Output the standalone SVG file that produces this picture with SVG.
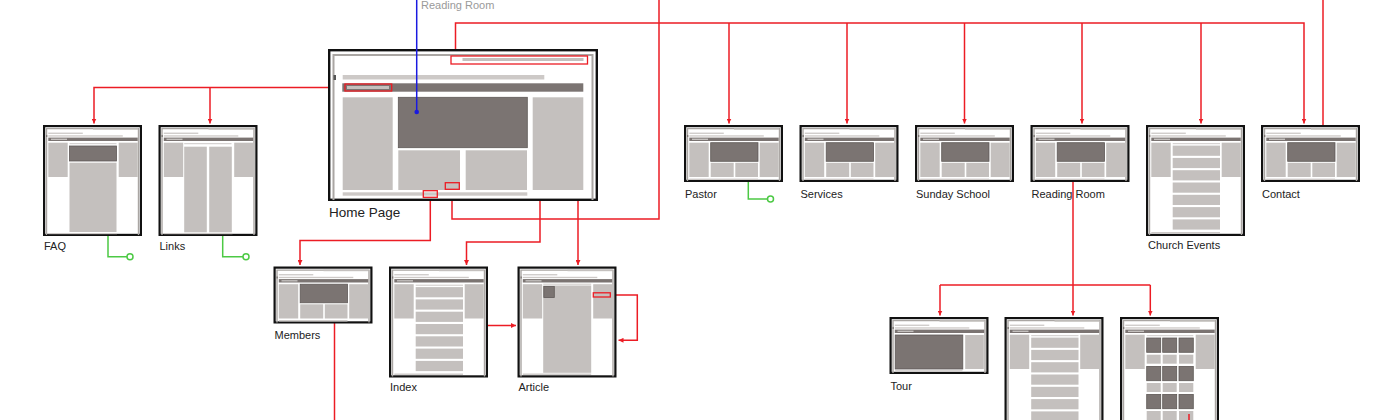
<svg xmlns="http://www.w3.org/2000/svg" xmlns:xlink="http://www.w3.org/1999/xlink" width="1400" height="420" viewBox="0 0 1400 420">
<style>
.lt{fill:#c4c0be}
.ln{fill:#cdc9c7}
.dk{fill:#7b7472}
.dks{fill:#7b7472;stroke:#5f5957;stroke-width:0.8}
.lbl{font-family:"Liberation Sans",Arial,sans-serif;font-size:11px;fill:#222}
.red{fill:none;stroke:#ec1c24;stroke-width:1.5}
.grn{fill:none;stroke:#4cc944;stroke-width:1.5}
.hl{fill:none;stroke:#ec1c24;stroke-width:1.3}
</style>
<defs>
<marker id="ah" viewBox="0 0 6 6" refX="6" refY="3" markerWidth="5" markerHeight="5" orient="auto" markerUnits="userSpaceOnUse"><path d="M0,0 L6,3 L0,6 z" fill="#ec1c24"/></marker>
<g id="frame-w"><rect x="1.1" y="1.1" width="96.8" height="54.8" fill="#fff" stroke="#111" stroke-width="2.2"/><path d="M3.5,56 V3.6 H95.5 V56" fill="none" stroke="#aaa6a3" stroke-width="1.4"/></g>
<g id="frame-t"><rect x="1.1" y="1.1" width="96.8" height="108.8" fill="#fff" stroke="#111" stroke-width="2.2"/><path d="M3.5,110 V3.6 H95.5 V110" fill="none" stroke="#aaa6a3" stroke-width="1.4"/></g>
<g id="chrome">
<rect class="lt" x="50" y="3.2" width="45" height="1.5"/>
<rect class="ln" x="5.3" y="7.6" width="34.5" height="1.3"/>
<rect class="ln" x="5.3" y="10.3" width="74.5" height="1.3"/>
<rect class="dk" x="3" y="10" width="1.3" height="2"/>
<rect class="dk" x="5.3" y="12.6" width="89.4" height="3.4"/>
<rect class="lt" x="8" y="13.6" width="16" height="1.4"/>
</g>
<g id="cols"><rect class="lt" x="5.3" y="17.7" width="19.4" height="34.3"/><rect class="lt" x="75.7" y="17.7" width="19" height="34.3"/></g>
<g id="std">
<rect class="dks" x="26.7" y="17.7" width="47.3" height="18.6"/>
<rect class="lt" x="26.7" y="37.8" width="23" height="14.2"/>
<rect class="lt" x="51.3" y="37.8" width="22.7" height="14.2"/>
<rect class="ln" x="5.3" y="53.6" width="68.7" height="1.4"/>
</g>
<g id="list">
<rect class="ln" x="26.7" y="18.2" width="47.3" height="1"/>
<rect class="lt" x="26.7" y="20.6" width="47.3" height="10.2"/>
<rect class="lt" x="26.7" y="32.9" width="47.3" height="10.2"/>
<rect class="lt" x="26.7" y="45.2" width="47.3" height="10.2"/>
<rect class="lt" x="26.7" y="57.5" width="47.3" height="10.2"/>
<rect class="lt" x="26.7" y="69.8" width="47.3" height="10.2"/>
<rect class="lt" x="26.7" y="82.1" width="47.3" height="10.2"/>
<rect class="lt" x="26.7" y="94.4" width="47.3" height="10.2"/>
<rect class="ln" x="5.3" y="107" width="68.7" height="1.4"/>
</g>
</defs>

<g id="connectors">
<path class="red" d="M345,87.5 H94 V123.5" marker-end="url(#ah)"/>
<path class="red" d="M210,87.5 V123.5" marker-end="url(#ah)"/>
<path class="red" d="M455.5,56 V23 H1304 V123.5" marker-end="url(#ah)"/>
<path class="red" d="M729,23 V123.5" marker-end="url(#ah)"/>
<path class="red" d="M847,23 V123.5" marker-end="url(#ah)"/>
<path class="red" d="M964.5,23 V123.5" marker-end="url(#ah)"/>
<path class="red" d="M1082,23 V123.5" marker-end="url(#ah)"/>
<path class="red" d="M1201,23 V123.5" marker-end="url(#ah)"/>
<path class="red" d="M452,189.3 V219 H659 V0"/>
<path class="red" d="M1323,0 V172"/>
<path class="red" d="M430.3,197.3 V240.5 H300 V265" marker-end="url(#ah)"/>
<path class="red" d="M545,116 H540 V242 H466.5 V265" marker-end="url(#ah)"/>
<path class="red" d="M578,183 V265" marker-end="url(#ah)"/>
<path class="red" d="M453,325.5 H516" marker-end="url(#ah)"/>
<path class="red" d="M610.3,295 H637.3 V340.3 H618.5" marker-end="url(#ah)"/>
<path class="red" d="M334.5,310 V420"/>
<path class="red" d="M1073,177 V315.5" marker-end="url(#ah)"/>
<path class="red" d="M940,285 H1150.3"/>
<path class="red" d="M940,285 V315.5" marker-end="url(#ah)"/>
<path class="red" d="M1150.3,285 V315.5" marker-end="url(#ah)"/>
<path class="grn" d="M108,229 V256.7 H127"/>
<circle class="grn" cx="130" cy="256.7" r="3"/>
<path class="grn" d="M222.7,229 V256.7 H243"/>
<circle class="grn" cx="246" cy="256.7" r="3"/>
<path class="grn" d="M748.3,169 V199 H767.5"/>
<circle class="grn" cx="770.5" cy="199" r="3"/>
</g>

<g id="home">
<rect x="329.2" y="50.2" width="267.6" height="149.6" fill="#fff" stroke="#111" stroke-width="2.4"/>
<path d="M333.5,200 V55 H592.5 V200" fill="none" stroke="#aaa6a3" stroke-width="2"/>
<rect class="lt" x="462.5" y="58" width="121" height="3"/>
<rect class="ln" x="342.7" y="75" width="201.6" height="4.5"/>
<rect x="333.5" y="75" width="2.5" height="5" fill="#555"/>
<rect class="dk" x="342.3" y="83.3" width="241" height="8.4"/>
<rect class="lt" x="347" y="86" width="42" height="3"/>
<rect class="lt" x="342.7" y="97.3" width="50" height="92.7"/>
<rect class="dks" x="398.3" y="97.3" width="129" height="50.4"/>
<rect class="lt" x="398.3" y="150.3" width="61.7" height="39.7"/>
<rect class="lt" x="465.7" y="150.3" width="61.3" height="39.7"/>
<rect class="lt" x="532.7" y="97.3" width="50.6" height="92.7"/>
<rect class="ln" x="342.7" y="192.3" width="184.6" height="3.4"/>
<rect class="hl" x="451" y="56" width="136.5" height="8"/>
<rect class="hl" x="345" y="84" width="46.7" height="7"/>
<rect class="hl" x="445.3" y="182.7" width="14" height="6.6"/>
<rect class="hl" x="423.3" y="190.7" width="14" height="6.6"/>
<text x="329" y="217" font-family="Liberation Sans, Arial, sans-serif" font-size="13.5" fill="#222">Home Page</text>
</g>

<g id="blue-link">
<path d="M416.7,0 V112" stroke="#1a1ae0" stroke-width="1.5" fill="none"/>
<circle cx="416.7" cy="112" r="2.3" fill="#1a1ae0"/>
<text x="421" y="9" font-family="Liberation Sans, Arial, sans-serif" font-size="11" fill="#9a9a9a">Reading Room</text>
</g>

<g id="faq" transform="translate(43,125)">
<use xlink:href="#frame-t"/><use xlink:href="#chrome"/><use xlink:href="#cols"/>
<rect class="ln" x="26.5" y="18.2" width="47" height="1"/>
<rect class="dks" x="26.5" y="21" width="47" height="15"/>
<rect class="lt" x="26.5" y="37.7" width="47" height="69.3"/>
<rect class="ln" x="5.3" y="108" width="68.7" height="1.2"/>
<text class="lbl" x="1" y="125">FAQ</text>
</g>

<g id="links" transform="translate(158.5,125)">
<use xlink:href="#frame-t"/><use xlink:href="#chrome"/><use xlink:href="#cols"/>
<rect class="ln" x="25.7" y="18.2" width="47.3" height="1"/>
<rect class="lt" x="25.7" y="21.7" width="22.6" height="85.6"/>
<rect class="lt" x="50.7" y="21.7" width="22.6" height="85.6"/>
<rect class="ln" x="5.3" y="108" width="68.7" height="1.2"/>
<text class="lbl" x="1" y="125">Links</text>
</g>

<g id="members" transform="translate(273.5,266.5)">
<use xlink:href="#frame-w"/><use xlink:href="#chrome"/><use xlink:href="#cols"/><use xlink:href="#std"/>
<text class="lbl" x="1" y="72.5">Members</text>
</g>

<g id="index" transform="translate(389,266.5)">
<use xlink:href="#frame-t"/><use xlink:href="#chrome"/><use xlink:href="#cols"/><use xlink:href="#list"/>
<text class="lbl" x="1" y="124">Index</text>
</g>

<g id="article" transform="translate(517.5,266.5)">
<use xlink:href="#frame-t"/><use xlink:href="#chrome"/><use xlink:href="#cols"/>
<rect class="ln" x="25.7" y="17.2" width="48" height="1"/>
<rect class="lt" x="25.7" y="19" width="48" height="87.3"/>
<rect class="dks" x="26.3" y="20" width="10.5" height="11" stroke="#fff" stroke-width="1.4"/>
<rect class="ln" x="5.3" y="107" width="68.4" height="1.4"/>
<rect class="hl" x="75.8" y="26.3" width="17" height="4.2"/>
<text class="lbl" x="1" y="124">Article</text>
</g>

<g id="pastor" transform="translate(684,125)">
<use xlink:href="#frame-w"/><use xlink:href="#chrome"/><use xlink:href="#cols"/><use xlink:href="#std"/>
<text class="lbl" x="1" y="73">Pastor</text>
</g>

<g id="services" transform="translate(799.5,125)">
<use xlink:href="#frame-w"/><use xlink:href="#chrome"/><use xlink:href="#cols"/><use xlink:href="#std"/>
<text class="lbl" x="1" y="73">Services</text>
</g>

<g id="sunday-school" transform="translate(915,125)">
<use xlink:href="#frame-w"/><use xlink:href="#chrome"/><use xlink:href="#cols"/><use xlink:href="#std"/>
<text class="lbl" x="1" y="73">Sunday School</text>
</g>

<g id="reading-room" transform="translate(1030.5,125)">
<use xlink:href="#frame-w"/><use xlink:href="#chrome"/><use xlink:href="#cols"/><use xlink:href="#std"/>
<text class="lbl" x="1" y="73">Reading Room</text>
</g>

<g id="church-events" transform="translate(1146,125)">
<use xlink:href="#frame-t"/><use xlink:href="#chrome"/><use xlink:href="#cols"/><use xlink:href="#list"/>
<text class="lbl" x="2" y="124">Church Events</text>
</g>

<g id="contact" transform="translate(1261,125)">
<use xlink:href="#frame-w"/><use xlink:href="#chrome"/><use xlink:href="#cols"/><use xlink:href="#std"/>
<text class="lbl" x="1" y="73">Contact</text>
</g>

<g id="tour" transform="translate(889.5,317)">
<use xlink:href="#frame-w"/><use xlink:href="#chrome"/>
<rect class="dks" x="5.7" y="18" width="67.6" height="34"/>
<rect class="lt" x="75.7" y="18" width="18.6" height="34"/>
<rect class="ln" x="5.7" y="53.2" width="67.3" height="1.4"/>
<text class="lbl" x="1" y="73">Tour</text>
</g>

<g id="rr-list" transform="translate(1004.5,317)">
<use xlink:href="#frame-t"/><use xlink:href="#chrome"/><use xlink:href="#cols"/><use xlink:href="#list"/>
</g>

<g id="rr-gallery" transform="translate(1120,317)">
<use xlink:href="#frame-t"/><use xlink:href="#chrome"/><use xlink:href="#cols"/>
<rect class="ln" x="26.7" y="18.2" width="46.6" height="1"/>
<rect class="dks" x="26.7" y="21" width="14" height="14.3"/><rect class="dks" x="42.7" y="21" width="14" height="14.3"/><rect class="dks" x="59" y="21" width="14.3" height="14.3"/>
<rect class="lt" x="26.7" y="37.7" width="14" height="9"/><rect class="lt" x="42.7" y="37.7" width="14" height="9"/><rect class="lt" x="59" y="37.7" width="14.3" height="9"/>
<rect class="dks" x="26.7" y="49.4" width="14" height="14.3"/><rect class="dks" x="42.7" y="49.4" width="14" height="14.3"/><rect class="dks" x="59" y="49.4" width="14.3" height="14.3"/>
<rect class="lt" x="26.7" y="66" width="14" height="9"/><rect class="lt" x="42.7" y="66" width="14" height="9"/><rect class="lt" x="59" y="66" width="14.3" height="9"/>
<rect class="dks" x="26.7" y="77.4" width="14" height="14.3"/><rect class="dks" x="42.7" y="77.4" width="14" height="14.3"/><rect class="dks" x="59" y="77.4" width="14.3" height="14.3"/>
<rect class="lt" x="26.7" y="94" width="14" height="9"/><rect class="lt" x="42.7" y="94" width="14" height="9"/><rect class="lt" x="59" y="94" width="14.3" height="9"/>
</g>

<g id="overlay-lines">
<path class="red" d="M1189,414 V420"/>
</g>
</svg>
